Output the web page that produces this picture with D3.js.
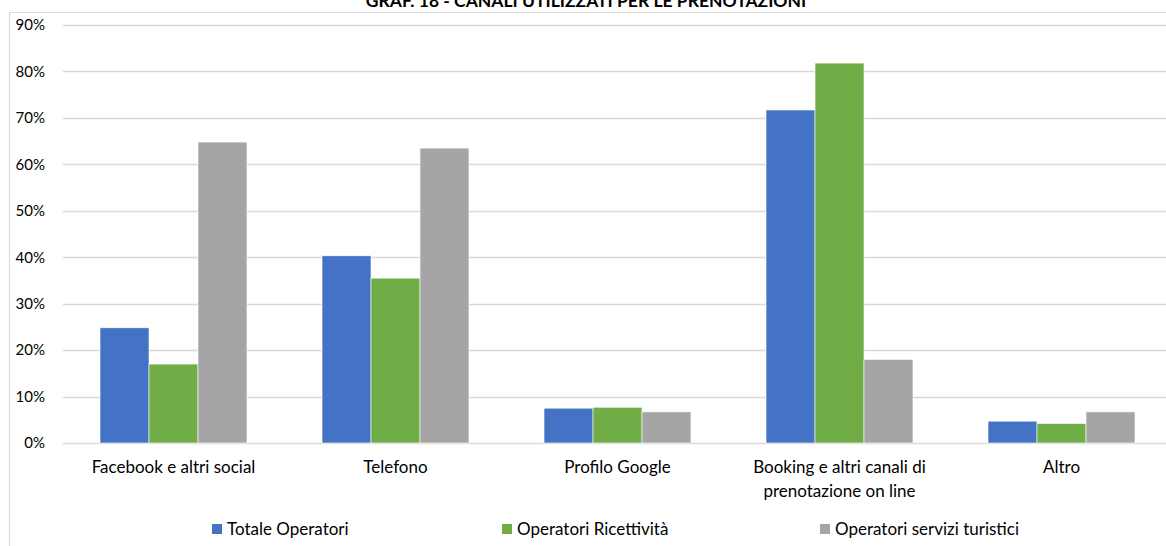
<!DOCTYPE html>
<html>
<head>
<meta charset="utf-8">
<script src="https://cdn.jsdelivr.net/npm/d3@7"></script>
<style>
  html, body { margin: 0; padding: 0; background: #fff; }
  svg { display: block; font-family: Lato, "Open Sans", sans-serif; }
</style>
</head>
<body>
<svg id="chart" width="1166" height="546"></svg>
<script>
// Canali utilizzati per le prenotazioni (quota % di operatori)
const categories = [
  ["Facebook e altri social"],
  ["Telefono"],
  ["Profilo Google"],
  ["Booking e altri canali di", "prenotazione on line"],
  ["Altro"]
];
const seriesNames = ["Totale Operatori", "Operatori Ricettività", "Operatori servizi turistici"];
const totaleOperatori   = [0.248, 0.403, 0.075, 0.717, 0.047];
const operatoriRicett   = [0.170, 0.355, 0.077, 0.818, 0.042];
const operatoriServizi  = [0.648, 0.635, 0.067, 0.180, 0.067];
const yTicks = [0, 0.1, 0.2, 0.3, 0.4, 0.5, 0.6, 0.7, 0.8, 0.9];
const colors = ["#4472C4", "#70AD47", "#A5A5A5"];
const title = "GRAF. 18 - CANALI UTILIZZATI PER LE PRENOTAZIONI";

const seriesValues = [totaleOperatori, operatoriRicett, operatoriServizi];
const svg = d3.select("#chart");
const labelSize = 17;

// chart frame
svg.append("path")
  .attr("d", "M9.5,546 V12.5 H1166")
  .attr("fill", "none").attr("stroke", "#D9D9D9").attr("stroke-width", 1.2);

svg.append("text")
  .attr("x", 586).attr("y", 7)
  .attr("text-anchor", "middle")
  .attr("font-weight", "bold").attr("font-size", 17.5)
  .attr("fill", "#000")
  .text(title);

const plot = { left: 62.5, right: 1172.5, top: 25, bottom: 443 };
const x0 = d3.scaleBand().domain(d3.range(categories.length))
  .range([plot.left, plot.right]).paddingInner(0.338).paddingOuter(0.169);
const x1 = d3.scaleBand().domain(d3.range(seriesNames.length))
  .range([0, x0.bandwidth()]);
const y = d3.scaleLinear().domain([0, 0.9]).range([plot.bottom, plot.top]);

// gridlines
svg.append("g")
  .selectAll("line").data(yTicks).join("line")
  .attr("x1", 63).attr("x2", 1166)
  .attr("y1", d => Math.round(y(d)) + 0.5).attr("y2", d => Math.round(y(d)) + 0.5)
  .attr("stroke", "#D9D9D9").attr("stroke-width", 1.5);

// y axis labels
const yAxis = d3.axisLeft(y).tickValues(yTicks).tickFormat(d3.format(".0%")).tickSize(0).tickPadding(0);
const yg = svg.append("g").attr("transform", "translate(45,0)").call(yAxis);
yg.select(".domain").remove();
yg.selectAll("text").attr("font-size", 15).attr("fill", "#000").attr("font-family", "Lato, sans-serif");

// bars
const groups = svg.append("g").selectAll("g").data(categories.map((c, i) => i)).join("g")
  .attr("transform", i => `translate(${x0(i)},0)`);
groups.selectAll("rect")
  .data(i => seriesValues.map((s, k) => ({ k, v: s[i] })))
  .join("rect")
  .attr("x", d => x1(d.k))
  .attr("width", x1.bandwidth())
  .attr("y", d => y(d.v))
  .attr("height", d => y(0) - y(d.v))
  .attr("fill", d => colors[d.k])
  .attr("stroke", "#fff").attr("stroke-width", 0.6);

// category labels
const xl = svg.append("g").selectAll("text").data(categories.map((c, i) => i)).join("text")
  .attr("x", i => x0(i) + x0.bandwidth() / 2)
  .attr("y", 473)
  .attr("text-anchor", "middle")
  .attr("font-size", labelSize).attr("fill", "#000");
xl.selectAll("tspan").data(i => categories[i]).join("tspan")
  .attr("x", function () { return d3.select(this.parentNode).attr("x"); })
  .attr("dy", (d, j) => j === 0 ? 0 : 24)
  .text(d => d);

// legend
const legendX = [212, 502, 820];
const leg = svg.append("g").selectAll("g").data(seriesNames).join("g")
  .attr("transform", (d, k) => `translate(${legendX[k]},524)`);
leg.append("rect").attr("width", 10).attr("height", 10).attr("fill", (d, k) => colors[k]);
leg.append("text").attr("x", 15).attr("y", 10.5).attr("font-size", labelSize).attr("fill", "#000").text(d => d);
</script>
</body>
</html>
